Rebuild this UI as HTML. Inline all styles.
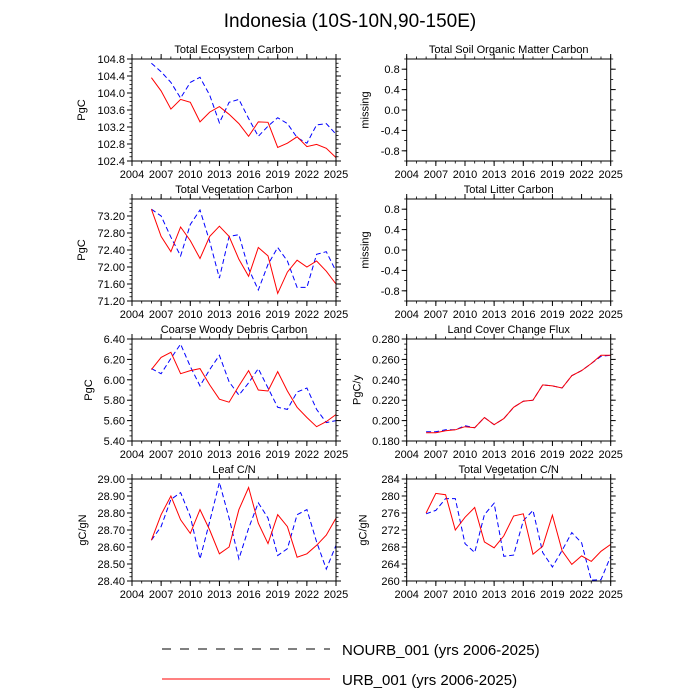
<!DOCTYPE html>
<html><head><meta charset="utf-8"><style>
body{margin:0;background:#fff;}
svg{display:block;font-family:"Liberation Sans",sans-serif;}
</style></head><body>
<svg id="chart" width="700" height="700" viewBox="0 0 700 700">
<text x="350" y="27" text-anchor="middle" font-size="19">Indonesia (10S-10N,90-150E)</text>
<g>
<line x1="162" y1="649" x2="330" y2="649" stroke="#000" stroke-width="1" stroke-dasharray="9,9"/>
<text x="342" y="655" font-size="15">NOURB_001 (yrs 2006-2025)</text>
<line x1="162" y1="679" x2="330" y2="679" stroke="#f00" stroke-width="1"/>
<text x="342" y="685" font-size="15">URB_001 (yrs 2006-2025)</text>
</g>
</svg>
<script>
const years=[2006,2007,2008,2009,2010,2011,2012,2013,2014,2015,2016,2017,2018,2019,2020,2021,2022,2023,2024,2025];
const xTicks=[2004,2007,2010,2013,2016,2019,2022,2025];
const tecUrb=[104.36,104.05,103.62,103.85,103.78,103.32,103.55,103.68,103.5,103.28,102.98,103.32,103.31,102.72,102.82,102.97,102.74,102.79,102.7,102.48];
const tecNourb=[104.7,104.5,104.25,103.88,104.25,104.37,103.95,103.3,103.78,103.85,103.4,102.98,103.22,103.42,103.28,102.95,102.82,103.25,103.28,103.03];
const tvcUrb=[73.36,72.72,72.36,72.94,72.62,72.2,72.72,72.96,72.72,72.18,71.78,72.46,72.26,71.38,71.88,72.16,72.0,72.14,71.9,71.6];
const tvcNourb=[73.36,73.2,72.7,72.26,73.0,73.34,72.6,71.74,72.72,72.76,71.96,71.46,72.06,72.46,72.14,71.52,71.52,72.3,72.36,71.9];
const cwdUrb=[6.10,6.22,6.27,6.06,6.09,6.11,5.95,5.81,5.78,5.94,6.09,5.90,5.89,6.08,5.89,5.73,5.63,5.54,5.59,5.66];
const cwdNourb=[6.11,6.06,6.21,6.35,6.13,5.94,6.10,6.24,5.98,5.85,5.97,6.11,5.92,5.73,5.71,5.88,5.92,5.71,5.58,5.60];
const leafUrb=[28.64,28.79,28.90,28.76,28.68,28.82,28.70,28.56,28.60,28.82,28.95,28.74,28.62,28.79,28.72,28.54,28.56,28.61,28.67,28.77];
const leafNourb=[28.64,28.72,28.88,28.92,28.78,28.53,28.75,28.98,28.77,28.53,28.71,28.86,28.77,28.55,28.59,28.79,28.82,28.63,28.47,28.61];
const lccUrb=[0.188,0.188,0.190,0.191,0.194,0.193,0.203,0.196,0.202,0.213,0.219,0.220,0.235,0.234,0.232,0.244,0.249,0.256,0.264,0.264];
const lccNourb=[0.189,0.189,0.191,0.191,0.195,0.193,0.203,0.196,0.202,0.213,0.219,0.220,0.235,0.234,0.232,0.244,0.249,0.256,0.263,0.264];
const vcnUrb=[276,280.6,280.3,272,275,277.3,269.2,267.8,270.6,275.3,275.8,266.3,268.2,275.5,267.1,263.9,265.9,264.6,267,268.6];
const vcnNourb=[275.8,276.6,279.4,279.4,268.8,266.7,275.6,278.3,265.8,266.1,274.2,276.6,266.7,263.3,267.2,271.4,269.0,260.2,260.3,265.8];
const tecTicks=[102.4,102.8,103.2,103.6,104.0,104.4,104.8];
const tvcTicks=[71.2,71.6,72.0,72.4,72.8,73.2];
const cwdTicks=[5.4,5.6,5.8,6.0,6.2,6.4];
const leafTicks=[28.4,28.5,28.6,28.7,28.8,28.9,29.0];
const lccTicks=[0.18,0.2,0.22,0.24,0.26,0.28];
const vcnTicks=[260,264,268,272,276,280,284];
const missTicks=[-0.8,-0.4,0,0.4,0.8];

const NS="http://www.w3.org/2000/svg";
const svg=document.getElementById('chart');
function mk(tag,attrs,parent){const e=document.createElementNS(NS,tag);for(const k in attrs)e.setAttribute(k,attrs[k]);(parent||svg).appendChild(e);return e;}

const panels=[
 {name:'total-ecosystem-carbon',title:'Total Ecosystem Carbon',col:0,top:59,ymin:102.4,ymax:104.8,ticks:tecTicks,dec:1,minor:0.1,ylab:'PgC',yoff:47,u:tecUrb,n:tecNourb},
 {name:'total-soil-organic-matter-carbon',title:'Total Soil Organic Matter Carbon',col:1,top:59,ymin:-1,ymax:1,ticks:missTicks,dec:1,minor:0.2,ylab:'missing',yoff:38},
 {name:'total-vegetation-carbon',title:'Total Vegetation Carbon',col:0,top:199,ymin:71.2,ymax:73.6,ticks:tvcTicks,dec:2,minor:0.1,ylab:'PgC',yoff:47,u:tvcUrb,n:tvcNourb},
 {name:'total-litter-carbon',title:'Total Litter Carbon',col:1,top:199,ymin:-1,ymax:1,ticks:missTicks,dec:1,minor:0.2,ylab:'missing',yoff:38},
 {name:'coarse-woody-debris-carbon',title:'Coarse Woody Debris Carbon',col:0,top:339,ymin:5.4,ymax:6.4,ticks:cwdTicks,dec:2,minor:0.05,ylab:'PgC',yoff:40,u:cwdUrb,n:cwdNourb},
 {name:'land-cover-change-flux',title:'Land Cover Change Flux',col:1,top:339,ymin:0.18,ymax:0.28,ticks:lccTicks,dec:3,minor:0.005,ylab:'PgC/y',yoff:46,u:lccUrb,n:lccNourb},
 {name:'leaf-cn',title:'Leaf C/N',col:0,top:479,ymin:28.4,ymax:29.0,ticks:leafTicks,dec:2,minor:0.025,ylab:'gC/gN',yoff:46,u:leafUrb,n:leafNourb},
 {name:'total-vegetation-cn',title:'Total Vegetation C/N',col:1,top:479,ymin:260,ymax:284,ticks:vcnTicks,dec:0,minor:1,ylab:'gC/gN',yoff:40,u:vcnUrb,n:vcnNourb}
];
const H=102;
panels.forEach(p=>{
 const x0=p.col===0?132:406.7, x1=x0+204;
 const y0=p.top, y1=p.top+H;
 const sx=v=>x0+(v-2004)/(2025-2004)*(x1-x0);
 const sy=v=>y1-(v-p.ymin)/(p.ymax-p.ymin)*H;
 const g=mk('g',{});
 
 
 const t=mk('text',{x:(x0+x1)/2,y:y0-6,'text-anchor':'middle','font-size':11},g);t.textContent=p.title;
 
 
 for(let yr=2004;yr<=2025;yr++){const x=sx(yr);mk('line',{x1:x,x2:x,y1:y1,y2:y1+2.5,stroke:'#000','stroke-width':0.8},g);mk('line',{x1:x,x2:x,y1:y0,y2:y0-2.5,stroke:'#000','stroke-width':0.8},g);}
 const nm=Math.round((p.ymax-p.ymin)/p.minor);
 for(let i=0;i<=nm;i++){const y=sy(p.ymin+i*p.minor);mk('line',{x1:x0,x2:x0-2.5,y1:y,y2:y,stroke:'#000','stroke-width':0.8},g);mk('line',{x1:x1,x2:x1+2.5,y1:y,y2:y,stroke:'#000','stroke-width':0.8},g);}
 xTicks.forEach(yr=>{const x=sx(yr);mk('line',{x1:x,x2:x,y1:y1,y2:y1+5,stroke:'#000','stroke-width':1},g);mk('line',{x1:x,x2:x,y1:y0,y2:y0-5,stroke:'#000','stroke-width':1},g);
  const tl=mk('text',{x:x,y:y1+17,'text-anchor':'middle','font-size':11},g);tl.textContent=yr;
  
  });
 p.ticks.forEach(v=>{const y=sy(v);mk('line',{x1:x0,x2:x0-5,y1:y,y2:y,stroke:'#000','stroke-width':1},g);mk('line',{x1:x1,x2:x1+5,y1:y,y2:y,stroke:'#000','stroke-width':1},g);
  const tl=mk('text',{x:x0-7,y:y+4,'text-anchor':'end','font-size':11},g);tl.textContent=v.toFixed(p.dec);
  
  });
 const yl=mk('text',{x:0,y:0,'text-anchor':'middle','font-size':11,transform:`translate(${x0-p.yoff},${(y0+y1)/2}) rotate(-90)`},g);yl.textContent=p.ylab;
 
 
 if(p.u){
  const pts=a=>a.map((v,i)=>sx(years[i]).toFixed(1)+','+sy(v).toFixed(1)).join(' ');
  const ln=mk('polyline',{points:pts(p.n),fill:'none',stroke:'#0000ff','stroke-width':1,'stroke-dasharray':'5,3'},g);
  
  
  const lr=mk('polyline',{points:pts(p.u),fill:'none',stroke:'#ff0000','stroke-width':1},g);
  
  
 }
 const box=mk('rect',{x:x0,y:y0,width:x1-x0,height:H,fill:'none',stroke:'#000','stroke-width':1},g);
 
 
});
</script>
</body></html>
